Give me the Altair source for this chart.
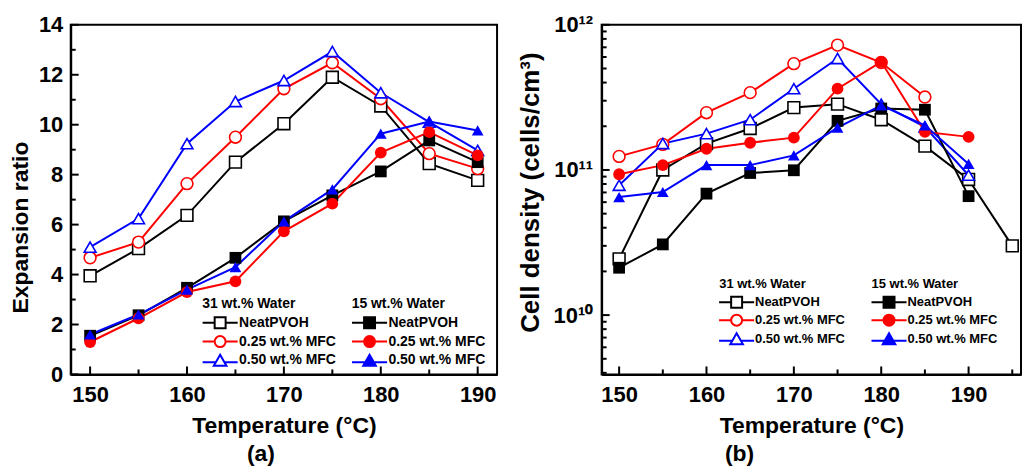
import altair as alt
import pandas as pd

FONT = "Liberation Sans"

# ---------------- data: panel (a) expansion ratio ----------------
temps_a = [150, 155, 160, 165, 170, 175, 180, 185, 190]
exp_31_neat = [3.95, 5.04, 6.37, 8.5, 10.04, 11.9, 10.75, 8.44, 7.77]
exp_31_025 = [4.67, 5.3, 7.64, 9.5, 11.44, 12.48, 11.04, 8.84, 8.24]
exp_31_050 = [5.1, 6.24, 9.24, 10.93, 11.77, 12.93, 11.28, 10.1, 8.97]
exp_15_neat = [1.55, 2.37, 3.47, 4.67, 6.13, 7.17, 8.13, 9.37, 8.5]
exp_15_025 = [1.3, 2.25, 3.3, 3.73, 5.73, 6.84, 8.88, 9.7, 8.77]
exp_15_050 = [1.6, 2.4, 3.4, 4.3, 6.13, 7.41, 9.64, 10.13, 9.77]

# ---------------- data: panel (b) cell density ----------------
temps_b = [150, 155, 160, 165, 170, 175, 180, 185, 190]
temps_b_31_neat = [150, 155, 160, 165, 170, 175, 180, 185, 190, 195]
temps_b_31_025 = [150, 155, 160, 165, 170, 175, 180, 185]
cd_31_neat = [2.44e10, 1.0e11, 1.52e11, 1.93e11, 2.69e11, 2.84e11, 2.22e11, 1.46e11, 8.6e10, 3.0e10]
cd_31_025 = [1.24e11, 1.50e11, 2.48e11, 3.41e11, 5.4e11, 7.25e11, 5.5e11, 3.18e11]
cd_31_050 = [7.84e10, 1.52e11, 1.78e11, 2.22e11, 3.63e11, 5.86e11, 2.84e11, 1.98e11, 9.2e10]
cd_15_neat = [2.12e10, 3.07e10, 6.87e10, 9.53e10, 9.95e10, 2.18e11, 2.65e11, 2.6e11, 6.6e10]
cd_15_025 = [9.34e10, 1.08e11, 1.4e11, 1.54e11, 1.67e11, 3.63e11, 5.56e11, 1.83e11, 1.69e11]
cd_15_050 = [6.5e10, 7.05e10, 1.08e11, 1.08e11, 1.26e11, 1.96e11, 2.79e11, 2.03e11, 1.1e11]

# ---------------- tick values ----------------
x_major_a = [150, 160, 170, 180, 190]
x_minor_a = [155, 165, 175, 185]
x_minor_b = [155, 165, 175, 185, 195]
y_major_a = [0, 2, 4, 6, 8, 10, 12, 14]
y_minor_a = [1, 3, 5, 7, 9, 11, 13]
y_major_b = [1e10, 1e11, 1e12]
y_minor_b = [4e9, 5e9, 6e9, 7e9, 8e9, 9e9, 2e10, 3e10, 4e10, 5e10, 6e10, 7e10, 8e10, 9e10,
             2e11, 3e11, 4e11, 5e11, 6e11, 7e11, 8e11, 9e11]

labels = ["NeatPVOH", "0.25 wt.% MFC", "0.50 wt.% MFC"]
colors = ["#000000", "#ff0000", "#0000ff"]
shapes = ["square", "circle", "triangle-up"]
legend_paths = [
    "M-3.2,0H-1M1,0H3.2M-1,-1H1V1H-1Z",
    "M-3.2,0H-1M1,0H3.2M1,0A1,1 0 1,1 -1,0A1,1 0 1,1 1,0Z",
    "M-3.2,0.3H-0.75M0.75,0.3H3.2M0,-1.05L1.15,0.95H-1.15Z",
]


def build_df(groups):
    rows = []
    for grp, lab, xs, ys in groups:
        for x, y in zip(xs, ys):
            rows.append({"T": x, "v": y, "group": grp, "label": lab, "series": grp + " " + lab})
    return pd.DataFrame(rows)


df_a = build_df([
    ("31", labels[0], temps_a, exp_31_neat),
    ("31", labels[1], temps_a, exp_31_025),
    ("31", labels[2], temps_a, exp_31_050),
    ("15", labels[0], temps_a, exp_15_neat),
    ("15", labels[1], temps_a, exp_15_025),
    ("15", labels[2], temps_a, exp_15_050),
])
df_b = build_df([
    ("31", labels[0], temps_b_31_neat, cd_31_neat),
    ("31", labels[1], temps_b_31_025, cd_31_025),
    ("31", labels[2], temps_b, cd_31_050),
    ("15", labels[0], temps_b, cd_15_neat),
    ("15", labels[1], temps_b, cd_15_025),
    ("15", labels[2], temps_b, cd_15_050),
])

series_keys = ["31 " + l for l in labels] + ["15 " + l for l in labels]
color_scale = alt.Scale(domain=series_keys, range=colors + colors)

W_A, W_B, H = 428, 421, 351


def make_legend(title, lx, ly, fs):
    return alt.Legend(
        title=title, orient="none", legendX=lx, legendY=ly,
        symbolSize=121, symbolStrokeWidth=2, symbolOffset=11,
        labelOffset=12, rowPadding=-1, padding=0, titlePadding=5,
        labelFont=FONT, labelFontWeight="bold", labelFontSize=fs, labelColor="black",
        titleFont=FONT, titleFontWeight="bold", titleFontSize=fs, titleColor="black",
        labelLimit=300,
    )


def panel(df, xs, ys, x_axis, y_axis, ticks, leg31, leg15):
    xmaj, xmin, ymaj, ymin = ticks

    def X(ax=None):
        return alt.X("T:Q", scale=xs, axis=ax)

    def Y(ax=None):
        return alt.Y("v:Q", scale=ys, axis=ax)

    base = alt.Chart(df)
    color = alt.Color("series:N", scale=color_scale, legend=None)
    lines = base.mark_line(strokeWidth=2).encode(
        x=X(x_axis), y=Y(y_axis), color=color, order="T:Q")
    d31 = base.transform_filter("datum.group == '31'")
    d15 = base.transform_filter("datum.group == '15'")
    pts31 = d31.mark_point(filled=False, fill="white", opacity=1, size=140, strokeWidth=1.6).encode(
        x=X(), y=Y(), color=color,
        shape=alt.Shape("series:N", scale=alt.Scale(domain=series_keys[:3], range=shapes), legend=None))
    pts15 = d15.mark_point(filled=True, opacity=1, size=140).encode(
        x=X(), y=Y(), color=color,
        shape=alt.Shape("series:N", scale=alt.Scale(domain=series_keys[3:], range=shapes), legend=None))
    lg31 = base.transform_filter("false").mark_point(filled=False, opacity=1, strokeWidth=2).encode(
        x=X(), y=Y(),
        stroke=alt.Stroke("label:N", scale=alt.Scale(domain=labels, range=colors), legend=leg31),
        shape=alt.Shape("label:N", scale=alt.Scale(domain=labels, range=legend_paths), legend=leg31))
    lg15 = base.transform_filter("false").mark_point(filled=True, opacity=1, strokeWidth=2).encode(
        x=X(), y=Y(),
        fill=alt.Fill("label:N", scale=alt.Scale(domain=labels, range=colors), legend=leg15),
        stroke=alt.Stroke("label:N", scale=alt.Scale(domain=labels, range=colors), legend=leg15),
        shape=alt.Shape("label:N", scale=alt.Scale(domain=labels, range=legend_paths), legend=leg15))

    # inward axis ticks, positioned through the panel's own scales
    def xticks(vals, length):
        return alt.Chart(pd.DataFrame({"T": vals})).mark_rule(color="black", strokeWidth=2).encode(
            x=X(), y=alt.value(H), y2=alt.value(H - length))

    def yticks(vals, length):
        return alt.Chart(pd.DataFrame({"v": vals})).mark_rule(color="black", strokeWidth=2).encode(
            y=Y(), x=alt.value(0), x2=alt.value(length))

    return alt.layer(
        lines, pts31, pts15, lg31, lg15,
        xticks(xmaj, 8), xticks(xmin, 5), yticks(ymaj, 8), yticks(ymin, 5),
    ).resolve_scale(
        shape="independent", stroke="independent", fill="independent").resolve_axis(
        x="independent", y="independent")


def x_main(vals):
    return alt.Axis(orient="bottom", values=vals, ticks=False, labelPadding=10,
                    title="Temperature (°C)", titlePadding=9)


# panel (a)
xs_a = alt.Scale(domain=[148, 192], nice=False, zero=False)
ys_a = alt.Scale(domain=[0, 14], nice=False, zero=False)
ya_main = alt.Axis(orient="left", values=y_major_a, ticks=False, labelPadding=8,
                   title="Expansion ratio", titlePadding=6, titleY=203)

# panel (b)
xs_b = alt.Scale(domain=[148, 196], nice=False, zero=False)
ys_b = alt.Scale(type="log", domain=[3.9e9, 1e12], nice=False)
yb_main = alt.Axis(orient="left", values=y_major_b, ticks=False,
                   labelExpr="datum.value == 1e10 ? '10¹⁰' : datum.value == 1e11 ? '10¹¹' : '10¹²'",
                   labelPadding=9, title="Cell density (cells/cm³)", titlePadding=10, titleY=168,
                   titleFontSize=26)

pa = panel(df_a, xs_a, ys_a, x_main(x_major_a), ya_main,
           (x_major_a, x_minor_a, y_major_a, y_minor_a),
           make_legend("31 wt.% Water", 132, 273, 14),
           make_legend("15 wt.% Water", 282, 273, 14)).properties(
    width=W_A, height=H,
    title=alt.TitleParams("(a)", orient="bottom", anchor="middle", dx=-23, offset=6,
                          font=FONT, fontSize=23, fontWeight="bold", color="black"))
pb = panel(df_b, xs_b, ys_b, x_main(x_major_a), yb_main,
           (x_major_a, x_minor_b, y_major_b, y_minor_b),
           make_legend("31 wt.% Water", 118, 254, 13),
           make_legend("15 wt.% Water", 271, 254, 13)).properties(
    width=W_B, height=H,
    title=alt.TitleParams("(b)", orient="bottom", anchor="middle", dx=-72, offset=6,
                          font=FONT, fontSize=23, fontWeight="bold", color="black"))

chart = alt.hconcat(pa, pb, spacing=105, bounds="flush").properties(
    padding={"left": 8, "top": 12, "right": 0, "bottom": 0},
    background="white",
).configure_view(stroke="black", strokeWidth=2).configure_axis(
    grid=False, domainColor="black", domainWidth=2, tickColor="black", tickWidth=2,
    labelFont=FONT, labelFontWeight="bold", labelFontSize=22, labelColor="black",
    titleFont=FONT, titleFontWeight="bold", titleFontSize=23, titleColor="black",
    labelOverlap=False,
)

chart.save("out.html", embed_options={"renderer": "svg", "actions": False})
